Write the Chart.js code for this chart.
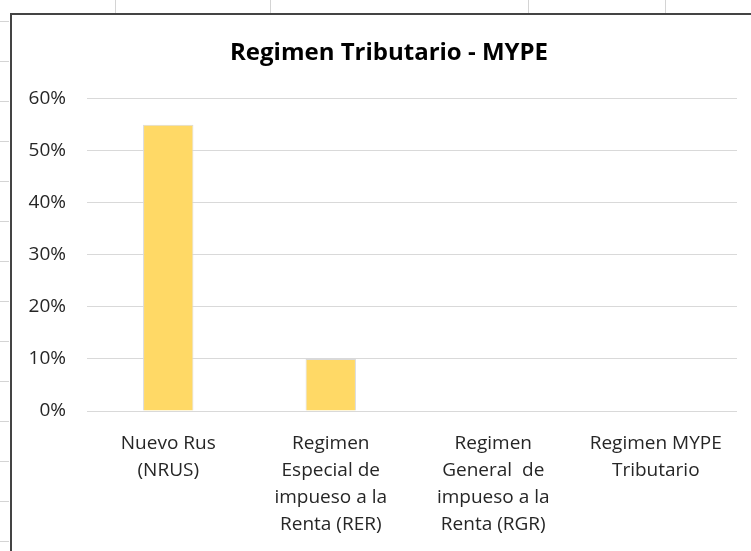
<!DOCTYPE html>
<html lang="es">
<head>
    <meta charset="UTF-8" />
    <title>Regimen Tributario - MYPE</title>
    <script src="https://cdn.jsdelivr.net/npm/chart.js"></script>
    <style>
        html, body { margin: 0; padding: 0; background: #fff; overflow: hidden; width: 751px; height: 551px; }
        .cell-v { position: absolute; top: 0; width: 1px; height: 13px; background: #d4d4d4; }
        .cell-h { position: absolute; left: 0; width: 9px; height: 1px; background: #d4d4d4; }
        #box { position: absolute; left: 10px; top: 13px; width: 760px; height: 560px;
               border-left: 2px solid #444; border-top: 2px solid #444; background: #fff; }
        #wrap { position: absolute; left: 0; top: 0; width: 754px; height: 536px; }
    </style>
</head>
<body>
    <div id="sheet"></div>
    <div id="box"><div id="wrap"><canvas id="chart"></canvas></div></div>

    <script>
        // data
        const categories = [
            ['Nuevo Rus', '(NRUS)'],
            ['Regimen', 'Especial de', 'impueso a la', 'Renta (RER)'],
            ['Regimen', 'General  de', 'impueso a la', 'Renta (RGR)'],
            ['Regimen MYPE', 'Tributario']
        ];
        const shares = [0.55, 0.10, 0, 0];
        const yTicks = ['0%', '10%', '20%', '30%', '40%', '50%', '60%'];

        // spreadsheet cell lines peeking out around the chart
        const sheet = document.getElementById('sheet');
        [115, 270, 528, 665].forEach(x => {
            const d = document.createElement('div');
            d.className = 'cell-v'; d.style.left = x + 'px'; sheet.appendChild(d);
        });
        for (let y = 21; y < 551; y += 40) {
            const d = document.createElement('div');
            d.className = 'cell-h'; d.style.top = y + 'px'; sheet.appendChild(d);
        }

        const FONT = '"Open Sans", Lato, sans-serif';

        new Chart(document.getElementById('chart'), {
            type: 'bar',
            data: {
                labels: categories,
                datasets: [{
                    data: shares,
                    backgroundColor: '#FFD966',
                    borderColor: '#d9d9d9',
                    borderWidth: 1,
                    categoryPercentage: 1,
                    barPercentage: 0.31
                }]
            },
            options: {
                responsive: true,
                maintainAspectRatio: false,
                animation: false,
                layout: { padding: 0 },
                plugins: {
                    legend: { display: false },
                    tooltip: { enabled: false },
                    title: {
                        display: true,
                        text: 'Regimen Tributario - MYPE',
                        color: '#000',
                        font: { family: FONT, size: 24, weight: 'bold', lineHeight: 1.2 },
                        padding: { top: 24, bottom: 31 }
                    }
                },
                scales: {
                    x: {
                        grid: { display: false },
                        border: { display: false },
                        ticks: {
                            color: '#262626',
                            maxRotation: 0,
                            autoSkip: false,
                            padding: 11,
                            font: { family: FONT, size: 19, lineHeight: '27px' }
                        },
                        afterFit: s => { s.height = 140; }
                    },
                    y: {
                        min: 0,
                        max: 0.6,
                        grid: { color: '#d9d9d9', lineWidth: 1, drawTicks: false },
                        border: { display: false },
                        ticks: {
                            stepSize: 0.1,
                            color: '#262626',
                            padding: 21,
                            font: { family: FONT, size: 19 },
                            callback: (v, i) => yTicks[i]
                        },
                        afterFit: s => { s.width = 75; }
                    },
                    // empty right-hand gutter so the title stays centred on the whole chart
                    pad: {
                        type: 'linear',
                        position: 'right',
                        grid: { display: false },
                        border: { display: false },
                        ticks: { display: false },
                        afterFit: s => { s.width = 29; }
                    }
                }
            }
        });
    </script>
</body>
</html>
